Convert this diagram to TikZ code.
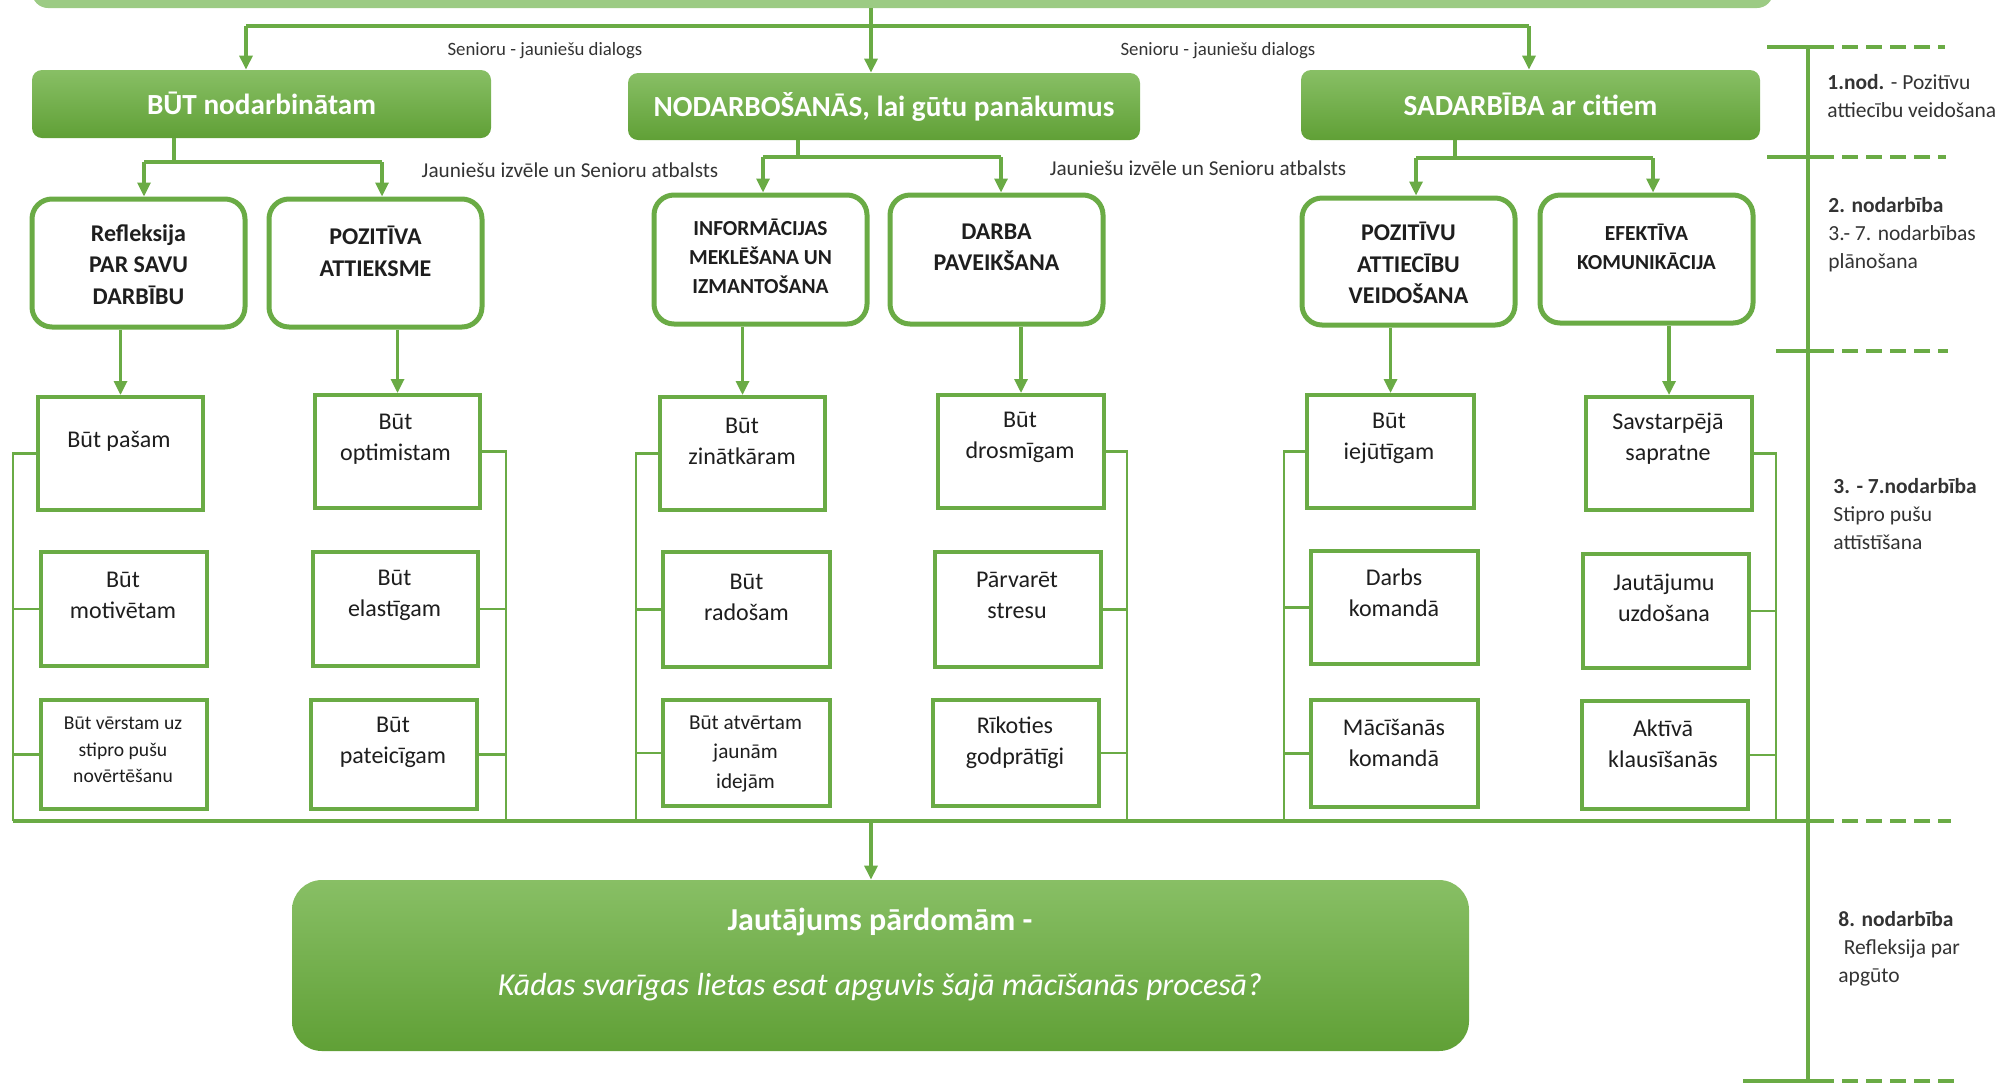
\documentclass[tikz,border=0pt]{standalone}
\usepackage{fontspec}
\setmainfont{Carlito}
\usetikzlibrary{arrows.meta,calc}
\definecolor{gline}{HTML}{6AAB45}
\definecolor{gtop}{HTML}{88BF65}
\definecolor{gbot}{HTML}{60A036}
\definecolor{gbar}{HTML}{9CCB84}
\definecolor{txt}{HTML}{1E1E1E}
\definecolor{ltxt}{HTML}{333333}
\begin{document}
\begin{tikzpicture}[x=0.5pt,y=-0.5pt,
  sz/.style n args={2}{minimum width={#1*0.5pt},minimum height={#2*0.5pt}},
  headbox/.style={rectangle, rounded corners=5pt, top color=gtop, bottom color=gbot, draw=none, inner sep=0pt, text=white, text height=11pt, text depth=1pt, font=\bfseries\fontsize{14.6}{17}\selectfont},
  barbox/.style={rectangle, rounded corners=8pt, fill=gbar, draw=none, inner sep=0pt},
  finbox/.style={rectangle, rounded corners=15pt, top color=gtop, bottom color=gbot, draw=none, inner sep=0pt},
  topicbox/.style={rectangle, rounded corners=10pt, draw=gline, line width=2.5pt, fill=white, inner sep=0pt},
  itembox/.style={rectangle, draw=gline, line width=2pt, fill=white, inner sep=0pt},
  ttxt/.style={align=center, inner sep=0pt, text=txt, font=\bfseries\fontsize{12}{15.75}\selectfont},
  tstxt/.style={align=center, inner sep=0pt, text=txt, font=\bfseries\fontsize{10.7}{14.5}\selectfont},
  itxt/.style={align=center, inner sep=0pt, text=txt, font=\fontsize{12}{15.5}\selectfont},
  lbl/.style={inner sep=0pt, text=ltxt},
  side/.style={align=left, anchor=west, inner sep=0pt, text=ltxt, font=\fontsize{10.75}{14}\selectfont},
  conn/.style={draw=gline, line width=1.6pt},
  brk/.style={draw=gline, line width=1.25pt},
  arr/.style={conn, -{Triangle[length=7pt,width=6.5pt]}},
  tl/.style={draw=gline, line width=2pt},
  tld/.style={draw=gline, line width=2pt, dash pattern=on 8pt off 4pt},
]
\useasboundingbox (0,0) rectangle (2000,1083);

% top bar
\node[barbox, sz={1741}{60}] (topbar) at (902.5,-22) {};

% level 1
\node[headbox, sz={459}{68}] (but) at (261.5,104) {BŪT nodarbinātam};
\node[headbox, sz={512}{67}] (nod) at (884,106.5) {NODARBOŠANĀS, lai gūtu panākumus};
\node[headbox, sz={459}{70}] (sad) at (1530.5,105) {SADARBĪBA ar citiem};

% labels
\node[lbl, font=\fontsize{9.4}{11}\selectfont] (lab1) at (545,51) {Senioru - jauniešu dialogs};
\node[lbl, font=\fontsize{9.4}{11}\selectfont] (lab2) at (1218,51) {Senioru - jauniešu dialogs};
\node[lbl, font=\fontsize{10.6}{12}\selectfont] (lab3) at (570,170) {Jauniešu izvēle un Senioru atbalsts};
\node[lbl, font=\fontsize{10.6}{12}\selectfont] (lab4) at (1198,168) {Jauniešu izvēle un Senioru atbalsts};

% level 2
\node[topicbox, sz={213}{128}] (ref) at (138.5,263) {};
\node[topicbox, sz={213}{128}] (poz) at (375.5,263) {};
\node[topicbox, sz={213}{129}] (inf) at (760.5,259.5) {};
\node[topicbox, sz={213}{129}] (dar) at (996.5,259.5) {};
\node[topicbox, sz={213}{127}] (pat) at (1408.5,261.5) {};
\node[topicbox, sz={213}{128}] (efe) at (1646.5,259) {};
\node[ttxt] (refT) at (138.5,264.5) {Refleksija\\PAR SAVU\\DARBĪBU};
\node[ttxt] (pozT) at (375.5,251.5) {POZITĪVA\\ATTIEKSME};
\node[tstxt] (infT) at (760.5,256) {INFORMĀCIJAS\\MEKLĒŠANA UN\\IZMANTOŠANA};
\node[ttxt] (darT) at (996.5,247.5) {DARBA\\PAVEIKŠANA};
\node[ttxt] (patT) at (1408.5,263) {POZITĪVU\\ATTIECĪBU\\VEIDOŠANA};
\node[tstxt] (efeT) at (1646.5,247) {EFEKTĪVA\\KOMUNIKĀCIJA};

% level 3
\node[itembox, sz={165}{113}] (pas) at (120.5,453.5) {};
\node[itembox, sz={166}{114}] (mot) at (124,609) {};
\node[itembox, sz={166}{109}] (ver) at (124,754.5) {};
\node[itembox, sz={165}{113}] (opt) at (397.5,451.5) {};
\node[itembox, sz={165}{114}] (ela) at (395.5,609) {};
\node[itembox, sz={166}{109}] (pte) at (394,754.5) {};
\node[itembox, sz={165}{113}] (zin) at (742.5,453.5) {};
\node[itembox, sz={167}{115}] (rad) at (746.5,609.5) {};
\node[itembox, sz={167}{106}] (atv) at (746.5,753) {};
\node[itembox, sz={166}{113}] (dro) at (1021,451.5) {};
\node[itembox, sz={166}{115}] (str) at (1018,609.5) {};
\node[itembox, sz={166}{106}] (rik) at (1016,753) {};
\node[itembox, sz={167}{113}] (iej) at (1390.5,451.5) {};
\node[itembox, sz={167}{113}] (dko) at (1394.5,607.5) {};
\node[itembox, sz={167}{107}] (mko) at (1394.5,753.5) {};
\node[itembox, sz={166}{113}] (sav) at (1669,453.5) {};
\node[itembox, sz={166}{114}] (jau) at (1666,611) {};
\node[itembox, sz={166}{108}] (akt) at (1665,755) {};

\node[itxt] (pasT) at (119,441) {Būt pašam};
\node[itxt] (motT) at (123,595.5) {Būt\\motivētam};
\node[itxt, font=\fontsize{9.8}{13.25}\selectfont] (verT) at (123,750) {Būt vērstam uz\\stipro pušu\\novērtēšanu};
\node[itxt] (optT) at (395.5,439) {Būt\\optimistam};
\node[itxt] (elaT) at (394.5,595.5) {Būt\\elastīgam};
\node[itxt] (pteT) at (393,742.5) {Būt\\pateicīgam};
\node[itxt] (zinT) at (742,441.5) {Būt\\zinātkāram};
\node[itxt] (radT) at (746.5,597.5) {Būt\\radošam};
\node[itxt, font=\fontsize{10.6}{14.75}\selectfont] (atvT) at (745.5,753.5) {Būt atvērtam\\jaunām\\idejām};
\node[itxt] (droT) at (1020,437) {Būt\\drosmīgam};
\node[itxt] (strT) at (1017,595.5) {Pārvarēt\\stresu};
\node[itxt] (rikT) at (1015,742.5) {Rīkoties\\godprātīgi};
\node[itxt] (iejT) at (1389,438) {Būt\\iejūtīgam};
\node[itxt] (dkoT) at (1394,593) {Darbs\\komandā};
\node[itxt] (mkoT) at (1394,742.5) {Mācīšanās\\komandā};
\node[itxt] (savT) at (1668,439) {Savstarpējā\\sapratne};
\node[itxt] (jauT) at (1664,597.5) {Jautājumu\\uzdošana};
\node[itxt] (aktT) at (1663,744) {Aktīvā\\klausīšanās};

% final box
\node[finbox, sz={1177}{171}] (fin) at (880.5,965.5) {};
\node[inner sep=0pt, text=white, font=\bfseries\fontsize{16}{19}\selectfont] (finT) at (880,922) {Jautājums pārdomām -};
\node[inner sep=0pt, text=white, font=\itshape\fontsize{16}{19}\selectfont] (finQ) at (880,987) {Kādas svarīgas lietas esat apguvis šajā mācīšanās procesā?};

% top connectors
\coordinate (tbA) at (246,26);
\coordinate (tbB) at (871,26);
\coordinate (tbC) at (1529,26);
\draw[conn] (tbA) -- (tbC);
\draw[conn] (tbB |- topbar.south) -- (tbB);
\draw[arr] (tbA) -- (tbA |- but.north);
\draw[arr] (tbB) -- (tbB |- nod.north);
\draw[arr] (tbC) -- (tbC |- sad.north);

% level 1 -> level 2
\coordinate (bA) at (174,162); \coordinate (bL) at (144,162); \coordinate (bR) at (382,162);
\draw[conn] (bA |- but.south) -- (bA);
\draw[conn] (bL) -- (bR);
\draw[arr] (bL) -- (bL |- ref.north);
\draw[arr] (bR) -- (bR |- poz.north);
\coordinate (nA) at (798,157); \coordinate (nL) at (763,157); \coordinate (nR) at (1001,157);
\draw[conn] (nA |- nod.south) -- (nA);
\draw[conn] (nL) -- (nR);
\draw[arr] (nL) -- (nL |- inf.north);
\draw[arr] (nR) -- (nR |- dar.north);
\coordinate (sA) at (1455,158); \coordinate (sL) at (1416,158); \coordinate (sR) at (1653,158);
\draw[conn] (sA |- sad.south) -- (sA);
\draw[conn] (sL) -- (sR);
\draw[arr] (sL) -- (sL |- pat.north);
\draw[arr] (sR) -- (sR |- efe.north);

% level 2 -> level 3
\draw[arr] (pas.north |- ref.south) -- (pas.north);
\draw[arr] (opt.north |- poz.south) -- (opt.north);
\draw[arr] (zin.north |- inf.south) -- (zin.north);
\draw[arr] (dro.north |- dar.south) -- (dro.north);
\draw[arr] (iej.north |- pat.south) -- (iej.north);
\draw[arr] (sav.north |- efe.south) -- (sav.north);

% brackets
\coordinate (g1) at (13,821);
\coordinate (g2) at (506,821);
\coordinate (g3) at (636,821);
\coordinate (g4) at (1127,821);
\coordinate (g5) at (1284,821);
\coordinate (g6) at (1776,821);
\coordinate (gend) at (1818,821);
\draw[brk] (pas.west) -| (g1);
\draw[brk] (mot.west) -- (mot.west -| g1);
\draw[brk] (ver.west) -- (ver.west -| g1);
\draw[brk] (opt.east) -| (g2);
\draw[brk] (ela.east) -- (ela.east -| g2);
\draw[brk] (pte.east) -- (pte.east -| g2);
\draw[brk] (zin.west) -| (g3);
\draw[brk] (rad.west) -- (rad.west -| g3);
\draw[brk] (atv.west) -- (atv.west -| g3);
\draw[brk] (dro.east) -| (g4);
\draw[brk] (str.east) -- (str.east -| g4);
\draw[brk] (rik.east) -- (rik.east -| g4);
\draw[brk] (iej.west) -| (g5);
\draw[brk] (dko.west) -- (dko.west -| g5);
\draw[brk] (mko.west) -- (mko.west -| g5);
\draw[brk] (sav.east) -| (g6);
\draw[brk] (jau.east) -- (jau.east -| g6);
\draw[brk] (akt.east) -- (akt.east -| g6);
\draw[conn] (g1) -- (gend);
\coordinate (bm) at (871,821);
\draw[arr] (bm) -- (bm |- fin.north);

% timeline
\coordinate (tlT) at (1808,47);
\coordinate (tlB) at (1808,1083);
\draw[tl] (tlT) -- (tlB);
\draw[tl] (1767,47) -- (1818,47);
\draw[tld] (1818,47) -- (1945,47);
\draw[tl] (1767,157) -- (1818,157);
\draw[tld] (1818,157) -- (1946,157);
\draw[tl] (1776,351) -- (1818,351);
\draw[tld] (1818,351) -- (1948,351);
\draw[tld] (gend) -- (1951,821);
\draw[tl] (1743,1081) -- (1818,1081);
\draw[tld] (1818,1081) -- (1955,1081);

% side labels
\node[side] (r1) at (1827,96) {\textbf{1.nod.} - Pozitīvu\\attiecību veidošana};
\node[side] (r2) at (1828,235) {\textbf{2. nodarbība}\\3.- 7. nodarbības\\plānošana};
\node[side] (r3) at (1833,514) {\textbf{3. - 7.nodarbība}\\Stipro pušu\\attīstīšana};
\node[side] (r4) at (1838,948.5) {\textbf{8. nodarbība}\\\hspace*{0.25em}Refleksija par\\apgūto};
\end{tikzpicture}
\end{document}
